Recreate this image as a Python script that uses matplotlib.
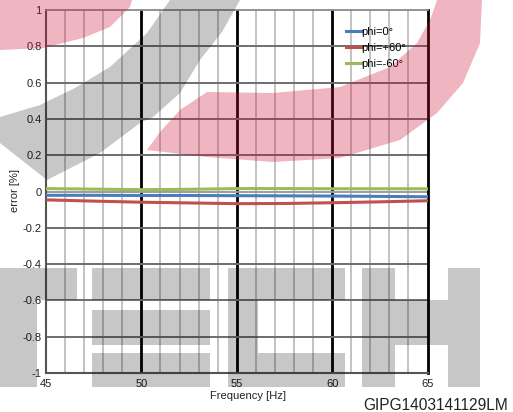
import matplotlib.pyplot as plt
import numpy as np
from matplotlib.patches import Polygon

plt.rcParams['font.family'] = ['Liberation Sans', 'DejaVu Sans']

# datos
freq = [45, 47.5, 50, 52.5, 55, 57.5, 60, 62.5, 65]
err_phi0 = [-0.021, -0.021, -0.022, -0.022, -0.023, -0.024, -0.025, -0.027, -0.029]
err_phi_p60 = [-0.046, -0.053, -0.059, -0.063, -0.067, -0.066, -0.062, -0.057, -0.051]
err_phi_m60 = [0.016, 0.013, 0.010, 0.012, 0.016, 0.016, 0.015, 0.015, 0.015]

labels = ["phi=0°", "phi=+60°", "phi=-60°"]
colores = ["#4a7ebb", "#c0504d", "#9bbb59"]

x_ticks = [45, 50, 55, 60, 65]
y_ticks = [-1, -0.8, -0.6, -0.4, -0.2, 0, 0.2, 0.4, 0.6, 0.8, 1]
y_tick_labels = ["-1", "-0.8", "-0.6", "-0.4", "-0.2", "0", "0.2", "0.4", "0.6", "0.8", "1"]

W, H = 513, 412
fig = plt.figure(figsize=(W / 100, H / 100), dpi=100)
ax = fig.add_axes([46 / W, 1 - 373 / H, 381.5 / W, 363 / H])

# rejilla
for f in range(46, 65):
    if f % 5 == 0:
        ax.axvline(f, color="black", lw=2.0, zorder=1)
    else:
        ax.axvline(f, color="#bdbdbd", lw=1.3, zorder=1)
for yv in y_ticks[1:-1]:
    ax.axhline(yv, color="#6e6e6e", lw=1.4, zorder=1)
ax.axhline(0, color="#a0a0a0", lw=1.4, zorder=1)

for serie, lab, c in zip([err_phi0, err_phi_p60, err_phi_m60], labels, colores):
    ax.plot(freq, serie, color=c, lw=2.2, label=lab, zorder=3)

ax.set_xlim(45, 65)
ax.set_ylim(-1, 1)
ax.set_xticks(x_ticks)
ax.set_yticks(y_ticks)
ax.set_yticklabels(y_tick_labels)
ax.tick_params(length=0, labelsize=8, colors="#222222")
ax.tick_params(axis="x", pad=4)
ax.tick_params(axis="y", pad=3)

for lado in ["left", "bottom"]:
    ax.spines[lado].set_color("#555555")
    ax.spines[lado].set_linewidth(1.5)
ax.spines["top"].set_color("#8a8a8a")
ax.spines["top"].set_linewidth(1.3)
ax.spines["right"].set_color("black")
ax.spines["right"].set_linewidth(2.0)

fig.text(248 / W, 1 - 396 / H, "Frequency [Hz]", ha="center", va="center",
         fontsize=8, color="#222222")
fig.text(15 / W, 1 - 191 / H, "error [%]", ha="center", va="center",
         rotation=90, fontsize=8, color="#222222")
fig.text(508 / W, 1 - 405 / H, "GIPG1403141129LM", ha="right", va="center",
         fontsize=11.2, color="#222222")

ax.legend(loc="upper left", bbox_to_anchor=(346 / W, 1 - 27 / H),
          bbox_transform=fig.transFigure, frameon=False, fontsize=8,
          handlelength=1.4, handletextpad=0.0, borderpad=0, borderaxespad=0,
          labelspacing=0.55)

# marca de agua (decoracion)
wm = fig.add_axes([0, 0, 1, 1], zorder=10)
wm.set_xlim(0, W)
wm.set_ylim(H, 0)
wm.axis("off")
gris = dict(facecolor="black", alpha=0.22, edgecolor="none")
rojo = dict(facecolor=(0.8, 0.05, 0.2), alpha=0.3, edgecolor="none")

rectangulos = [
    (0, 268, 77, 300), (0, 300, 37, 387),
    (92, 268, 210, 300), (92, 310, 210, 345), (92, 353, 210, 387),
    (228, 268, 345, 300), (228, 300, 258, 353), (228, 353, 345, 387),
    (362, 268, 395, 387), (395, 300, 448, 345), (448, 268, 480, 387),
]
for x0, y0, x1, y1 in rectangulos:
    wm.add_patch(Polygon([(x0, y0), (x1, y0), (x1, y1), (x0, y1)], **gris))

wm.add_patch(Polygon([(0, 0), (132, 0), (130, 7), (110, 27), (83, 38),
                      (43, 48), (0, 50)], **rojo))
wm.add_patch(Polygon([(170, 0), (240, 0), (222, 32), (200, 60), (180, 93),
                      (153, 117), (140, 123), (100, 153), (47, 180),
                      (0, 143), (0, 117), (40, 105), (75, 88), (110, 67),
                      (147, 33)], **gris))
wm.add_patch(Polygon([(147, 150), (207, 157), (273, 162), (340, 158),
                      (400, 140), (437, 113), (463, 83), (480, 43), (482, 0),
                      (437, 0), (430, 20), (417, 43), (390, 67), (340, 87),
                      (273, 93), (207, 92), (180, 110), (160, 132)], **rojo))

fig.savefig("out.png", dpi=100)
